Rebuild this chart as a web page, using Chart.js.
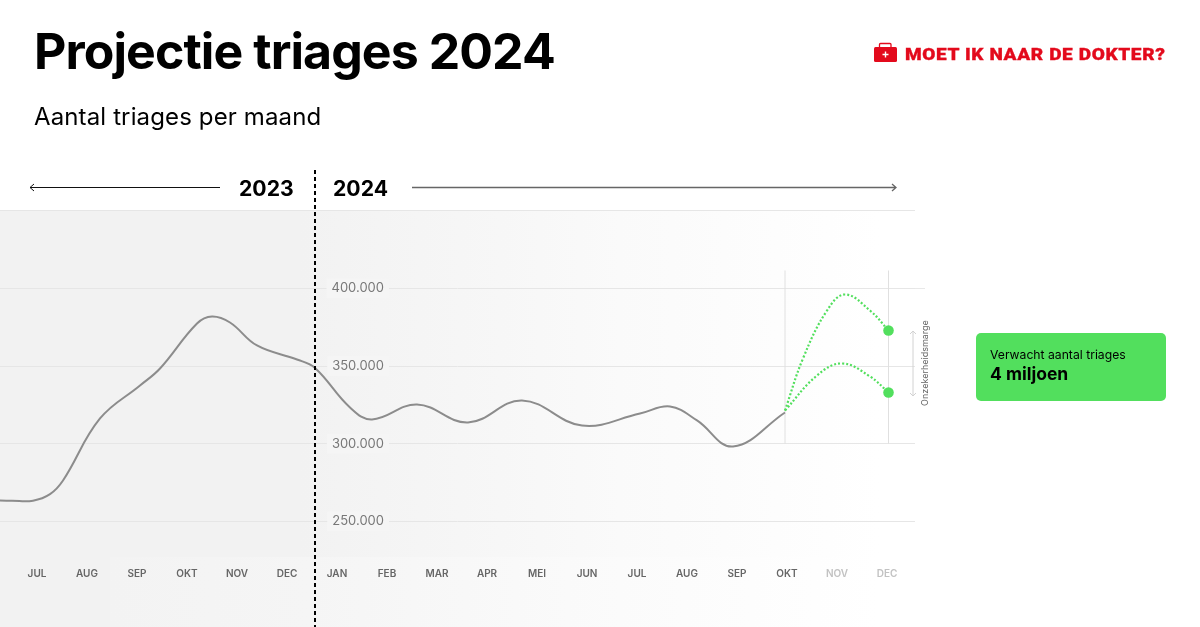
<!DOCTYPE html>
<html lang="nl">
<head>
<meta charset="utf-8">
<title>Projectie triages 2024</title>
<script src="https://cdn.jsdelivr.net/npm/chart.js@4"></script>
<style>
html,body{margin:0;padding:0;background:#fff;}
body{width:1200px;height:627px;overflow:hidden;position:relative;font-family:Inter,sans-serif;color:#000;}
.abs{position:absolute;}
#bg{left:0;top:211px;width:915px;height:416px;background:linear-gradient(90deg,#f2f2f2 0,#f2f2f2 300px,#fafafa 620px,#fff 880px);}
#bg2{left:110px;top:557px;width:805px;height:70px;background:linear-gradient(90deg,#f3f3f3 0,#f5f5f5 200px,#fbfbfb 510px,#fff 770px);}
#hline{left:0;top:210px;width:915px;height:1px;background:#e6e6e6;}
#ext{left:915px;top:288px;width:10px;height:1px;background:#e8e8e8;}
#c{position:absolute;left:0;top:0;}
#title{left:34px;top:21px;font-size:50px;font-weight:700;line-height:60px;letter-spacing:-0.92px;white-space:nowrap;}
#sub{left:34px;top:102px;font-size:24px;font-weight:400;line-height:30px;letter-spacing:0.13px;white-space:nowrap;}
.yr{top:174px;font-size:21.2px;font-weight:700;line-height:28px;}
#divider{left:314px;top:170px;width:2px;height:457px;background:repeating-linear-gradient(180deg,#000 0,#000 4px,transparent 4px,transparent 7px);}
#brand{left:905px;top:44px;font-family:Roboto,sans-serif;font-weight:900;font-size:17px;line-height:20px;letter-spacing:0.55px;color:#e30a1c;white-space:nowrap;transform:scaleX(1.12);transform-origin:left center;-webkit-text-stroke:0.3px #e30a1c;}
#box{left:976px;top:333px;width:190px;height:68px;border-radius:5px;background:#52df5d;}
#box1{left:14px;top:14px;font-size:12.2px;line-height:16px;white-space:nowrap;}
#box2{left:14px;top:29px;font-size:17.5px;font-weight:700;line-height:24px;white-space:nowrap;}
#marge{left:924px;top:363px;width:0;height:0;}
#marge span{position:absolute;left:0;top:0;transform:translate(-50%,-50%) rotate(-90deg);font-size:9px;color:#666;white-space:nowrap;}
svg{position:absolute;left:0;top:0;overflow:visible;}
</style>
</head>
<body>
<div id="bg" class="abs"></div>
<div id="bg2" class="abs"></div>
<div id="hline" class="abs"></div>
<div id="ext" class="abs"></div>
<canvas id="c" width="1200" height="627"></canvas>
<div id="divider" class="abs"></div>
<div id="title" class="abs">Projectie triages 2024</div>
<div id="sub" class="abs">Aantal triages per maand</div>
<div class="abs yr" style="left:239px">2023</div>
<div class="abs yr" style="left:333px">2024</div>
<svg width="1200" height="627" fill="none">
  <path d="M220 187.5H30M34 184l-4 3.5 4 3.5" stroke="#111" stroke-width="1"/>
  <path d="M412 187.5H896M892 184l4 3.5-4 3.5" stroke="#666" stroke-width="1.3"/>
  <path d="M913 331V396M910 334l3-3 3 3M910 393l3 3 3-3" stroke="#d2d2d2" stroke-width="1"/>
  <rect x="874" y="47" width="23" height="15" rx="1.5" fill="#e30a1c"/>
  <path d="M879.5 47v-2.5a1 1 0 0 1 1-1h9.5a1 1 0 0 1 1 1V47" stroke="#e30a1c" stroke-width="1.3"/>
  <path d="M885.5 51.5v6M882.5 54.5h6" stroke="#fff" stroke-width="1.4"/>
</svg>
<div id="marge" class="abs"><span>Onzekerheidsmarge</span></div>
<div id="brand" class="abs">MOET IK NAAR DE DOKTER?</div>
<div id="box" class="abs">
  <div id="box1" class="abs">Verwacht aantal triages</div>
  <div id="box2" class="abs">4 miljoen</div>
</div>
<script>
// Month labels: index 1 = JUL 2023 ... index 18 = DEC 2024 (index 0 = JUN 2023, only the curve start)
const monthLabels = ["JUL","AUG","SEP","OKT","NOV","DEC","JAN","FEB","MAR","APR","MEI","JUN","JUL","AUG","SEP","OKT","NOV","DEC"];
const yTickValues = [250000,300000,350000,400000];

const actualMonths = [0,0.5,0.92,1.26,1.52,2.26,3.06,3.46,4.2,4.5,4.86,5.4,6.2,6.56,7.26,7.7,8.6,9.62,10.7,11.9,13.06,13.66,14.2,14.92,15.96];
const actualValues = [263700,263300,263300,267500,276290,316240,337500,348460,377450,381960,378090,363270,354250,348780,323330,315600,325260,313660,327840,311730,319460,323970,315000,298200,320100];

const highMonths = [15.96,16.32,16.8,17.16,17.66,18.03];
const highValues = [321390,354900,385800,396130,385820,372940];
const lowMonths = [15.96,16.6,17.1,17.66,18.03];
const lowValues = [321390,343950,351680,343300,332990];

const guideMonths = [15.96,18.03];
const guideRange = [300000,411600];

const pts = (xs, ys) => xs.map((x, i) => ({x, y: ys[i]}));
const green = "#52df5d";
const dotted = (xs, ys) => ({
  data: pts(xs, ys), borderColor: green, borderWidth: 2.2, borderDash: [2,2],
  tension: 0.4, fill: false,
  pointRadius: xs.map((_, i) => i === xs.length - 1 ? 5.3 : 0),
  pointBackgroundColor: green, pointBorderWidth: 0
});
const guide = m => ({
  data: guideRange.map(y => ({x: m, y})), borderColor: "#e0e0e0", borderWidth: 1,
  pointRadius: 0, fill: false, order: 5
});

new Chart(document.getElementById("c"), {
  type: "line",
  data: { datasets: [
    guide(guideMonths[0]), guide(guideMonths[1]),
    { data: pts(actualMonths, actualValues), borderColor: "#8c8c8c", borderWidth: 2,
      tension: 0.4, pointRadius: 0, fill: false, order: 2 },
    Object.assign(dotted(highMonths, highValues), {order: 1}),
    Object.assign(dotted(lowMonths, lowValues), {order: 1})
  ]},
  options: {
    responsive: false, animation: false, events: [],
    layout: { autoPadding: false, padding: { top: 211, right: 285, left: 0, bottom: 0 } },
    plugins: { legend: { display: false }, tooltip: { enabled: false }, title: { display: false } },
    scales: {
      x: {
        type: "linear", min: 0.26, max: 18.56,
        grid: { display: false }, border: { display: false },
        afterBuildTicks: s => { s.ticks = monthLabels.map((_, i) => ({value: i + 1})); },
        afterFit: s => { s.height = 70; s.paddingLeft = 0; s.paddingRight = 0; },
        ticks: {
          autoSkip: false, maxRotation: 0, padding: 3,
          font: { family: "Inter", size: 10, weight: "600" },
          color: c => c.tick && c.tick.value >= 17 ? "#c2c2c2" : "#666666",
          callback: v => monthLabels[v - 1]
        }
      },
      y: {
        type: "linear", min: 226990, max: 449930,
        position: { x: 7.94 },
        grid: { color: "#e6e6e6", lineWidth: 1, drawTicks: false },
        border: { display: false },
        afterBuildTicks: s => { s.ticks = yTickValues.map(value => ({value})); },
        ticks: {
          padding: 3, font: { family: "Inter", size: 13 }, color: "#777777",
          showLabelBackdrop: true, backdropColor: "#f5f5f5", backdropPadding: { x: 5, y: 2 },
          callback: v => String(v).replace(/(\d{3})$/, ".$1")
        }
      }
    }
  }
});
</script>
</body>
</html>
